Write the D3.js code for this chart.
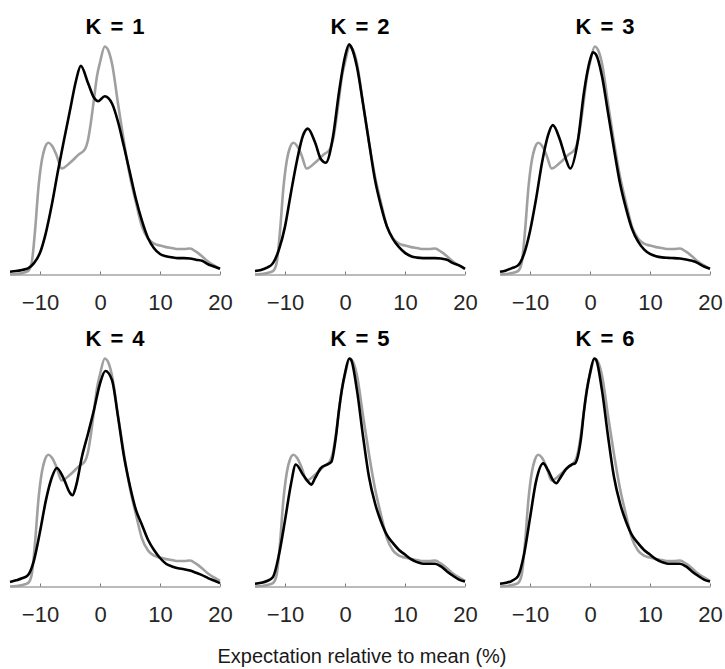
<!DOCTYPE html>
<html>
<head>
<meta charset="utf-8">
<script src="https://cdn.jsdelivr.net/npm/d3@7"></script>
<style>
  body { margin: 0; background: #fff; }
  svg { display: block; font-family: "Liberation Sans", Arial, Helvetica, sans-serif; }
</style>
</head>
<body>
<svg id="chart" width="725" height="669"></svg>
<script>
// ---------------- data ----------------
const panelTitles = ["K = 1", "K = 2", "K = 3", "K = 4", "K = 5", "K = 6"];
const xTicks = [-10, 0, 10, 20];
const xDomain = [-15, 20];
const xLabel = "Expectation relative to mean (%)";

// empirical density (gray), identical in every panel
const empirical = [
  [-15, 0.0], [-14, 0.002], [-13, 0.006], [-12, 0.015], [-11.4, 0.05], [-10.8, 0.2],
  [-10.3, 0.37], [-9.7, 0.5], [-9.2, 0.555], [-8.6, 0.578], [-8, 0.565],
  [-7.2, 0.52], [-6.4, 0.465], [-5, 0.49], [-3.6, 0.525], [-2.5, 0.55], [-2, 0.59],
  [-1.5, 0.67], [-1, 0.77], [-0.5, 0.87], [0, 0.93], [0.8, 1.0], [1.5, 0.975], [2, 0.925],
  [3, 0.75], [4, 0.58], [5, 0.43], [6, 0.315], [7, 0.21], [8, 0.158], [9, 0.135],
  [10, 0.127], [11, 0.12], [12, 0.116], [13, 0.112], [14, 0.112], [15, 0.114],
  [16, 0.1], [17, 0.08], [18, 0.057], [19, 0.04], [20, 0.025]
];

// fitted mixture densities (black), one per K
const fitK1 = [
  [-15, 0.012], [-14, 0.015], [-13, 0.02], [-12, 0.027], [-11, 0.05], [-10, 0.095],
  [-9, 0.185], [-8, 0.31], [-7, 0.455], [-6, 0.59], [-5, 0.72], [-4, 0.85],
  [-3.2, 0.915], [-2, 0.84], [-1, 0.775], [-0.3, 0.76], [0.8, 0.782], [2, 0.75],
  [3, 0.67], [4, 0.56], [5, 0.445], [6, 0.33], [7, 0.235], [8, 0.16], [9, 0.115],
  [10, 0.09], [11, 0.08], [12, 0.075], [13, 0.072], [14, 0.072], [15, 0.07],
  [16, 0.065], [17, 0.06], [18, 0.045], [19, 0.035], [20, 0.025]
];
const fitK2 = [
  [-15, 0.015], [-14, 0.02], [-13, 0.03], [-12, 0.05], [-11, 0.11], [-10, 0.21],
  [-9, 0.36], [-8, 0.5], [-7, 0.61], [-6.2, 0.64], [-5, 0.58], [-4, 0.505],
  [-3.2, 0.49], [-2, 0.605], [-1, 0.8], [0, 0.955], [0.7, 1.01], [1, 1.0],
  [2, 0.91], [3, 0.75], [4, 0.58], [5, 0.415], [6, 0.3], [7, 0.21], [8, 0.155],
  [9, 0.12], [10, 0.095], [11, 0.08], [12, 0.074], [13, 0.072], [14, 0.072],
  [15, 0.072], [16, 0.07], [17, 0.065], [18, 0.05], [19, 0.04], [20, 0.025]
];
const fitK3 = [
  [-15, 0.012], [-14, 0.018], [-13, 0.028], [-12, 0.04], [-11, 0.09], [-10, 0.19],
  [-9, 0.33], [-8, 0.49], [-7, 0.61], [-6.2, 0.655], [-5, 0.59], [-4, 0.505],
  [-3.3, 0.465], [-2, 0.59], [-1, 0.8], [0, 0.94], [0.5, 0.975], [1, 0.965],
  [2, 0.87], [3, 0.71], [4, 0.55], [5, 0.4], [6, 0.29], [7, 0.2], [8, 0.145],
  [9, 0.11], [10, 0.09], [11, 0.08], [12, 0.075], [13, 0.073], [14, 0.072],
  [15, 0.07], [16, 0.066], [17, 0.06], [18, 0.05], [19, 0.035], [20, 0.025]
];
const fitK4 = [
  [-15, 0.02], [-14, 0.027], [-13, 0.036], [-12, 0.05], [-11, 0.115], [-10, 0.24],
  [-9, 0.38], [-8, 0.48], [-7.2, 0.52], [-6, 0.47], [-5, 0.41], [-4.6, 0.4],
  [-4, 0.44], [-3, 0.57], [-2, 0.67], [-1, 0.775], [0, 0.89], [0.9, 0.945],
  [2, 0.905], [3, 0.745], [4, 0.57], [5, 0.44], [6, 0.335], [7, 0.27], [8, 0.205],
  [9, 0.16], [10, 0.125], [11, 0.1], [12, 0.088], [13, 0.08], [14, 0.076],
  [15, 0.07], [16, 0.06], [17, 0.05], [18, 0.037], [19, 0.026], [20, 0.015]
];
const fitK5 = [
  [-15, 0.012], [-14, 0.016], [-13, 0.024], [-12, 0.042], [-11, 0.14], [-10, 0.29],
  [-9, 0.45], [-8.2, 0.535], [-7, 0.49], [-6, 0.455], [-5.6, 0.447], [-5, 0.475],
  [-4, 0.52], [-3, 0.535], [-2.3, 0.545], [-1.5, 0.66], [-1, 0.775], [0, 0.935],
  [0.7, 1.0], [1, 0.995], [2, 0.86], [3, 0.66], [4, 0.48], [5, 0.365], [6, 0.285],
  [7, 0.225], [8, 0.19], [9, 0.16], [10, 0.14], [11, 0.12], [12, 0.107],
  [13, 0.1], [14, 0.1], [15, 0.1], [16, 0.088], [17, 0.066], [18, 0.047],
  [19, 0.03], [20, 0.022]
];
const fitK6 = [
  [-15, 0.012], [-14, 0.016], [-13, 0.025], [-12, 0.045], [-11, 0.14], [-10, 0.3],
  [-9, 0.46], [-7.8, 0.54], [-7, 0.51], [-6, 0.46], [-5.6, 0.453], [-5, 0.475],
  [-4, 0.515], [-3, 0.535], [-2.5, 0.54], [-1.5, 0.65], [-1, 0.77], [0, 0.935],
  [0.7, 1.0], [1, 0.995], [2, 0.86], [3, 0.66], [4, 0.48], [5, 0.365], [6, 0.285],
  [7, 0.225], [8, 0.19], [9, 0.16], [10, 0.14], [11, 0.12], [12, 0.107],
  [13, 0.1], [14, 0.1], [15, 0.1], [16, 0.088], [17, 0.066], [18, 0.047],
  [19, 0.03], [20, 0.022]
];
const fits = [fitK1, fitK2, fitK3, fitK4, fitK5, fitK6];

// ---------------- layout ----------------
const svg = d3.select("#chart");
const colLeft = [10, 255, 500];
const panelW = 210;
const rowAxis = [274.5, 586.5];
const panelH = 228;

fits.forEach((fit, i) => {
  const c = i % 3, r = Math.floor(i / 3);
  const g = svg.append("g").attr("transform", `translate(${colLeft[c]},${rowAxis[r] - panelH})`);
  const x = d3.scaleLinear().domain(xDomain).range([0, panelW]);
  const y = d3.scaleLinear().domain([0, 1]).range([panelH, 0]);

  // axis
  const ax = g.append("g").attr("transform", `translate(0,${panelH})`)
    .call(d3.axisBottom(x).tickValues(xTicks).tickSizeInner(-3).tickSizeOuter(0).tickPadding(20));
  ax.select(".domain").attr("stroke", "#777").attr("stroke-width", 1);
  ax.selectAll(".tick line").attr("stroke", "#777");
  ax.selectAll(".tick text")
    .attr("fill", "#262626")
    .style("font-size", "22px")
    .style("font-family", "'Liberation Sans', Arial, sans-serif");

  const line = d3.line().x(d => x(d[0])).y(d => y(d[1])).curve(d3.curveMonotoneX);

  g.append("path").datum(empirical).attr("d", line)
    .attr("fill", "none").attr("stroke", "#a0a0a0").attr("stroke-width", 2.6)
    .attr("stroke-linejoin", "round");
  g.append("path").datum(fit).attr("d", line)
    .attr("fill", "none").attr("stroke", "#000").attr("stroke-width", 2.6)
    .attr("stroke-linejoin", "round");

  g.append("text")
    .attr("x", panelW / 2 + 0.75).attr("y", -12.5)
    .attr("text-anchor", "middle")
    .style("font-size", "22px").style("font-weight", "bold")
    .style("letter-spacing", "1.5px")
    .attr("fill", "#000")
    .text(panelTitles[i]);
});

svg.append("text")
  .attr("x", 362).attr("y", 663)
  .attr("text-anchor", "middle")
  .style("font-size", "20px")
  .attr("fill", "#1a1a1a")
  .text(xLabel);
</script>
</body>
</html>
